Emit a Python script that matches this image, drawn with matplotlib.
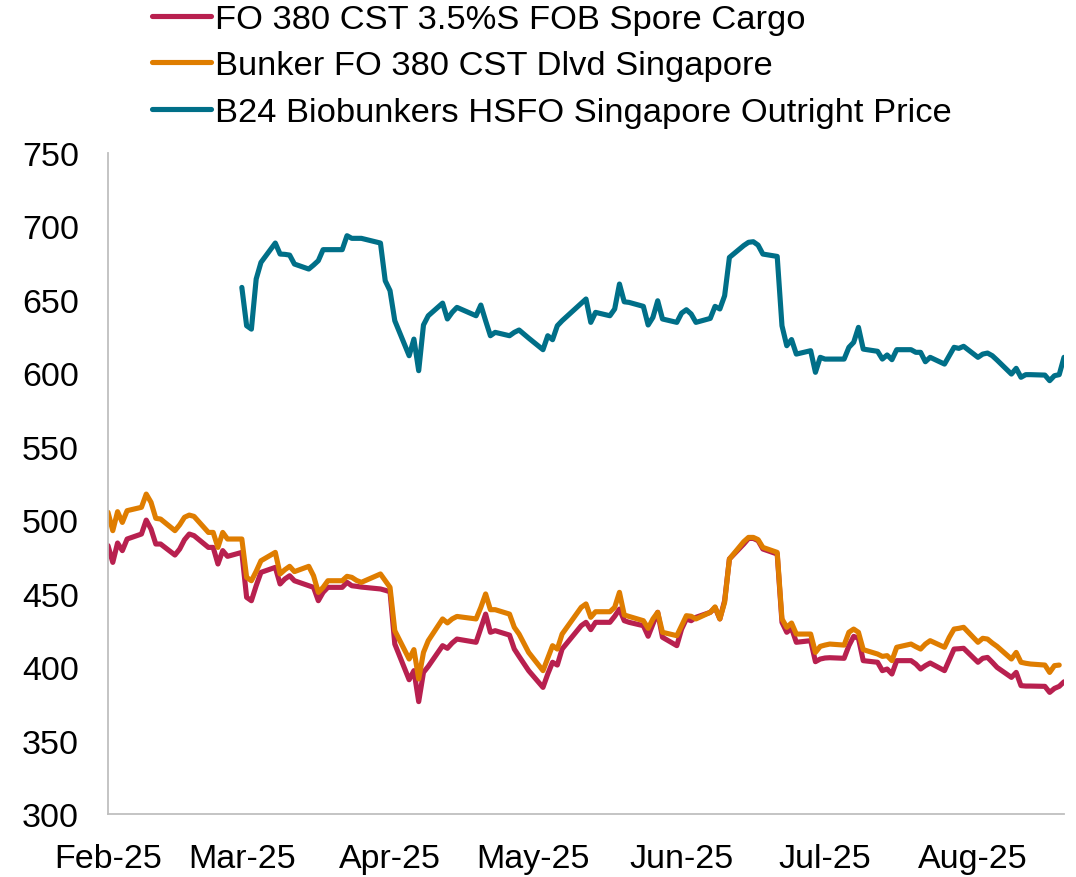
import numpy as np
import pandas as pd
import matplotlib
matplotlib.use("Agg")
import matplotlib.pyplot as plt
import matplotlib.dates as mdates

nan = np.nan

# Trading days (Singapore holidays excluded)
start_date = "2025-02-03"
end_date = "2025-08-22"
holidays = ["2025-03-31", "2025-04-18", "2025-05-01", "2025-05-12"]

labels = ["FO 380 CST 3.5%S FOB Spore Cargo",
          "Bunker FO 380 CST Dlvd Singapore",
          "B24 Biobunkers HSFO Singapore Outright Price"]

fo380_cargo = [
    # Feb
    482.7, 471.3, 484.5, 479.3, 487.2, 490.6, 500.1, 494.0, 483.8, 483.8,
    476.3, 480.4, 486.7, 490.6, 489.5, 481.5, 481.5, 470.2, 479.3, 475.4,
    # Mar
    478.1, 447.5, 445.2, 455.4, 464.5, 467.9, 456.6, 460.0, 462.2, 458.8,
    455.4, 454.3, 445.2, 450.9, 454.3, 454.3, 457.7, 455.4, 455.0, 454.5,
    # Apr
    453.2, 452.3, 451.3, 415.7, 391.4, 397.6, 376.5, 396.4, 400.5, 414.6,
    412.8, 416.4, 419.1, 416.9, 426.4, 436.1, 423.7, 424.8, 421.8, 412.3, 407.3,
    # May
    397.6, 386.2, 395.3, 403.3, 401.4, 412.3, 428.2, 430.5, 425.5, 430.5,
    430.5, 434.6, 439.5, 431.6, 430.5, 428.2, 421.0, 429.3, 437.3, 420.3,
    # Jun
    414.6, 425.9, 432.8, 431.6, 433.9, 437.3, 440.5, 432.8, 445.2, 473.6,
    483.8, 487.6, 487.6, 486.1, 480.4, 477.0, 430.5, 423.7, 426.4, 416.9, 418.0,
    # Jul
    403.7, 405.5, 406.2, 406.4, 406.0, 414.6, 420.9, 419.6, 404.4, 403.3,
    397.6, 398.7, 395.3, 404.4, 404.4, 402.1, 398.7, 401.0, 402.8, 397.6,
    405.0, 412.3, 412.5,
    # Aug
    412.8, 403.3, 406.0, 406.6, 403.3, 399.8, 393.0, 396.4, 387.4, 387.1,
    387.1, 386.9, 382.8, 385.5, 386.9, 390.0,
]

bunker_fo380 = [
    # Feb
    505.4, 492.9, 505.8, 498.5, 506.5, 508.8, 517.8, 512.2, 501.3, 500.8,
    492.9, 496.9, 502.0, 503.5, 502.6, 491.7, 491.7, 481.5, 491.7, 487.2,
    # Mar
    487.2, 461.1, 458.8, 465.2, 472.4, 478.1, 463.4, 466.3, 468.6, 465.0,
    468.6, 462.2, 450.9, 454.3, 458.8, 458.8, 461.8, 461.1, 459.0, 457.7,
    # Apr
    463.4, 458.8, 454.3, 424.8, 405.5, 411.9, 391.9, 410.0, 418.0, 432.8,
    430.1, 432.8, 434.5, 432.8, 440.7, 449.8, 439.1, 439.1, 436.1, 427.1, 422.5,
    # May
    410.0, 397.6, 406.0, 414.6, 412.3, 422.5, 440.7, 443.0, 433.9, 437.7,
    437.7, 440.7, 450.9, 435.5, 434.5, 431.6, 426.4, 432.8, 437.3, 423.7,
    # Jun
    421.4, 428.2, 435.0, 434.6, 432.8, 437.3, 441.0, 432.8, 444.1, 473.6,
    485.4, 488.3, 488.3, 486.8, 481.5, 478.1, 432.8, 427.1, 430.0, 422.5, 422.5,
    # Jul
    410.0, 414.1, 415.0, 415.7, 415.0, 423.7, 425.9, 423.7, 411.9, 408.9,
    407.3, 407.8, 404.4, 413.5, 415.7, 413.9, 412.3, 415.7, 418.0, 413.5,
    420.3, 425.9, 426.4,
    # Aug
    427.1, 416.9, 419.6, 419.1, 416.4, 414.1, 405.5, 410.0, 403.3, 402.6,
    402.1, 401.4, 396.4, 401.0, 401.4, nan,
]

b24_hsfo = [
    # Feb (no data)
    nan, nan, nan, nan, nan, nan, nan, nan, nan, nan,
    nan, nan, nan, nan, nan, nan, nan, nan, nan, nan,
    # Mar
    658.5, 632.4, 630.1, 664.2, 675.5, 688.7, 681.2, 681.0, 680.5, 674.4,
    671.0, 673.7, 676.7, 684.2, 684.2, 684.2, 693.7, 691.9, 691.9, 691.9,
    # Apr
    688.7, 663.0, 656.3, 635.8, 612.0, 623.3, 601.8, 632.9, 639.2, 647.8,
    637.0, 641.5, 644.9, 639.2, 646.5, 635.8, 625.6, 627.9, 625.6, 627.9, 629.5,
    # May
    624.0, 616.1, 625.6, 622.9, 632.4, 635.8, 647.6, 650.6, 634.7, 641.5,
    639.2, 643.8, 660.8, 648.7, 648.3, 645.6, 632.9, 638.1, 649.4, 637.0,
    # Jun
    634.7, 641.0, 643.3, 640.4, 634.7, 637.4, 645.6, 643.8, 652.8, 678.9,
    687.0, 689.2, 689.6, 687.3, 681.2, 679.6, 632.4, 618.8, 623.0, 613.1, 615.4,
    # Jul
    600.7, 610.9, 609.7, 609.7, 609.7, 617.7, 621.1, 631.3, 616.5, 615.0,
    609.7, 612.5, 609.3, 616.1, 616.1, 614.3, 614.3, 607.9, 610.9, 606.3,
    612.0, 617.7, 617.0,
    # Aug
    618.4, 610.9, 613.1, 613.8, 612.0, 609.0, 599.5, 603.4, 597.3, 599.1,
    599.1, 598.8, 595.0, 598.4, 599.1, 610.9,
]

colors = ["#B8204F", "#DF7D00", "#006F88"]

dates = pd.bdate_range(start_date, end_date, freq="C", holidays=holidays)
assert len(dates) == len(fo380_cargo) == len(bunker_fo380) == len(b24_hsfo)

plt.rcParams["font.family"] = ["Liberation Sans", "DejaVu Sans"]
FS = 24.5

fig = plt.figure(figsize=(10.76, 8.78), dpi=100)
ax = fig.add_axes([108 / 1076, 1 - 815 / 878, (1064 - 108) / 1076, (815 - 154) / 878])

series = [fo380_cargo, bunker_fo380, b24_hsfo]
for vals, lab, col in zip(series, labels, colors):
    ax.plot(dates, vals, color=col, lw=3.7, label=lab,
            solid_joinstyle="round", solid_capstyle="round")

ax.set_ylim(300, 750)
ax.set_yticks(np.arange(300, 751, 50))
ax.set_xlim(pd.Timestamp(start_date), pd.Timestamp(end_date))
ax.xaxis.set_major_locator(mdates.MonthLocator(bymonthday=3))
ax.xaxis.set_major_formatter(mdates.DateFormatter("%b-%y"))

for s in ["top", "right"]:
    ax.spines[s].set_visible(False)
for s in ["left", "bottom"]:
    ax.spines[s].set_color("#BFBFBF")
    ax.spines[s].set_linewidth(1.3)

ax.tick_params(axis="both", length=0, labelsize=FS, colors="black")
ax.tick_params(axis="y", pad=21)
ax.tick_params(axis="x", pad=21)

handles, labs = ax.get_legend_handles_labels()
fig.legend(handles, labs, loc="upper left", bbox_to_anchor=(152 / 1076, 1 - 5 / 878),
           frameon=False, fontsize=24.8, handlelength=1.72, handletextpad=0.1,
           labelspacing=0.44, borderpad=0, borderaxespad=0)

fig.savefig("out.png", dpi=100)
